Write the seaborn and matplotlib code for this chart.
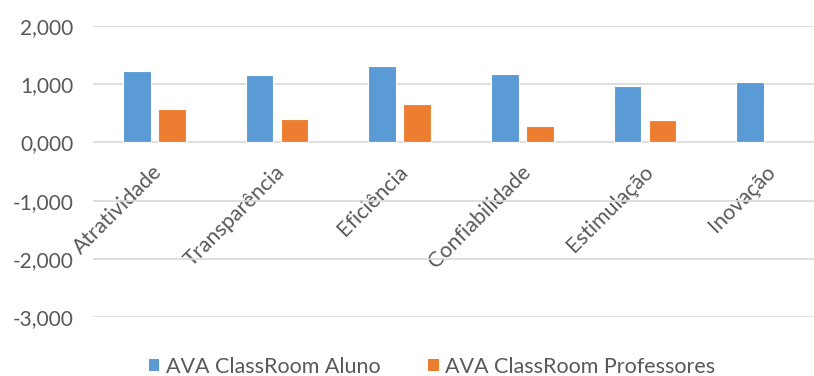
import matplotlib
matplotlib.use("Agg")
import matplotlib.pyplot as plt
import matplotlib.transforms as mtransforms
import seaborn as sns
import numpy as np
import pandas as pd
from matplotlib.patches import Patch
from matplotlib.ticker import FixedLocator, FuncFormatter

categories = ["Atratividade", "Transparência", "Eficiência", "Confiabilidade", "Estimulação", "Inovação"]
series_names = ["AVA ClassRoom Aluno", "AVA ClassRoom Professores"]
aluno = [1.224, 1.150, 1.305, 1.170, 0.977, 1.046]
professores = [0.580, 0.400, 0.667, 0.287, 0.379, np.nan]
yticks = [-3, -2, -1, 0, 1, 2]
colors = ["#5B9BD5", "#ED7D31"]

df = pd.DataFrame({
    "categoria": categories * 2,
    "serie": [series_names[0]] * len(categories) + [series_names[1]] * len(categories),
    "valor": aluno + professores,
})

sns.set_theme(style="white")
plt.rcParams["font.family"] = ["Lato", "DejaVu Sans"]
text_color = "#595959"

fig = plt.figure(figsize=(8.14, 3.76), dpi=100)
ax = fig.add_axes([93 / 814, 59 / 376, 736 / 814, 291 / 376])

sns.barplot(data=df, x="categoria", y="valor", hue="serie", order=categories,
            hue_order=series_names, palette=colors, width=0.575, gap=0.217,
            errorbar=None, edgecolor="white", linewidth=0.8, ax=ax, legend=False,
            saturation=1)

ax.set_ylim(-3, 2)
ax.set_xlim(-0.5, len(categories) - 0.5)
ax.yaxis.set_major_locator(FixedLocator(yticks))
ax.yaxis.set_major_formatter(FuncFormatter(lambda v, p: f"{v:,.3f}".replace(",", "X").replace(".", ",").replace("X", ".")))
ax.yaxis.grid(True, color="#D9D9D9", linewidth=1.2)
ax.set_axisbelow(True)
for s in ax.spines.values():
    s.set_visible(False)
ax.spines["bottom"].set_position(("data", 0))
ax.tick_params(axis="y", length=0, pad=14, labelsize=15, labelcolor=text_color)
ax.tick_params(axis="x", length=0, pad=19, labelsize=15.5, labelcolor=text_color)
ax.set_xticks(range(len(categories)))
ax.set_xticklabels(categories, rotation=45, ha="right", va="center", rotation_mode="anchor")
offset = mtransforms.ScaledTranslation(5 / 100, 0, fig.dpi_scale_trans)
for t in ax.get_xticklabels():
    t.set_transform(t.get_transform() + offset)
ax.set_xlabel("")
ax.set_ylabel("")

handles = [Patch(facecolor=c, edgecolor="none") for c in colors]
fig.legend(handles, series_names, loc="center", bbox_to_anchor=(432 / 814, 1 - 367 / 376),
           ncol=2, frameon=False, fontsize=15.5, handlelength=0.5, handleheight=0.5,
           handletextpad=0.3, columnspacing=2.2, labelcolor=text_color)

fig.savefig("out.png", dpi=100)
